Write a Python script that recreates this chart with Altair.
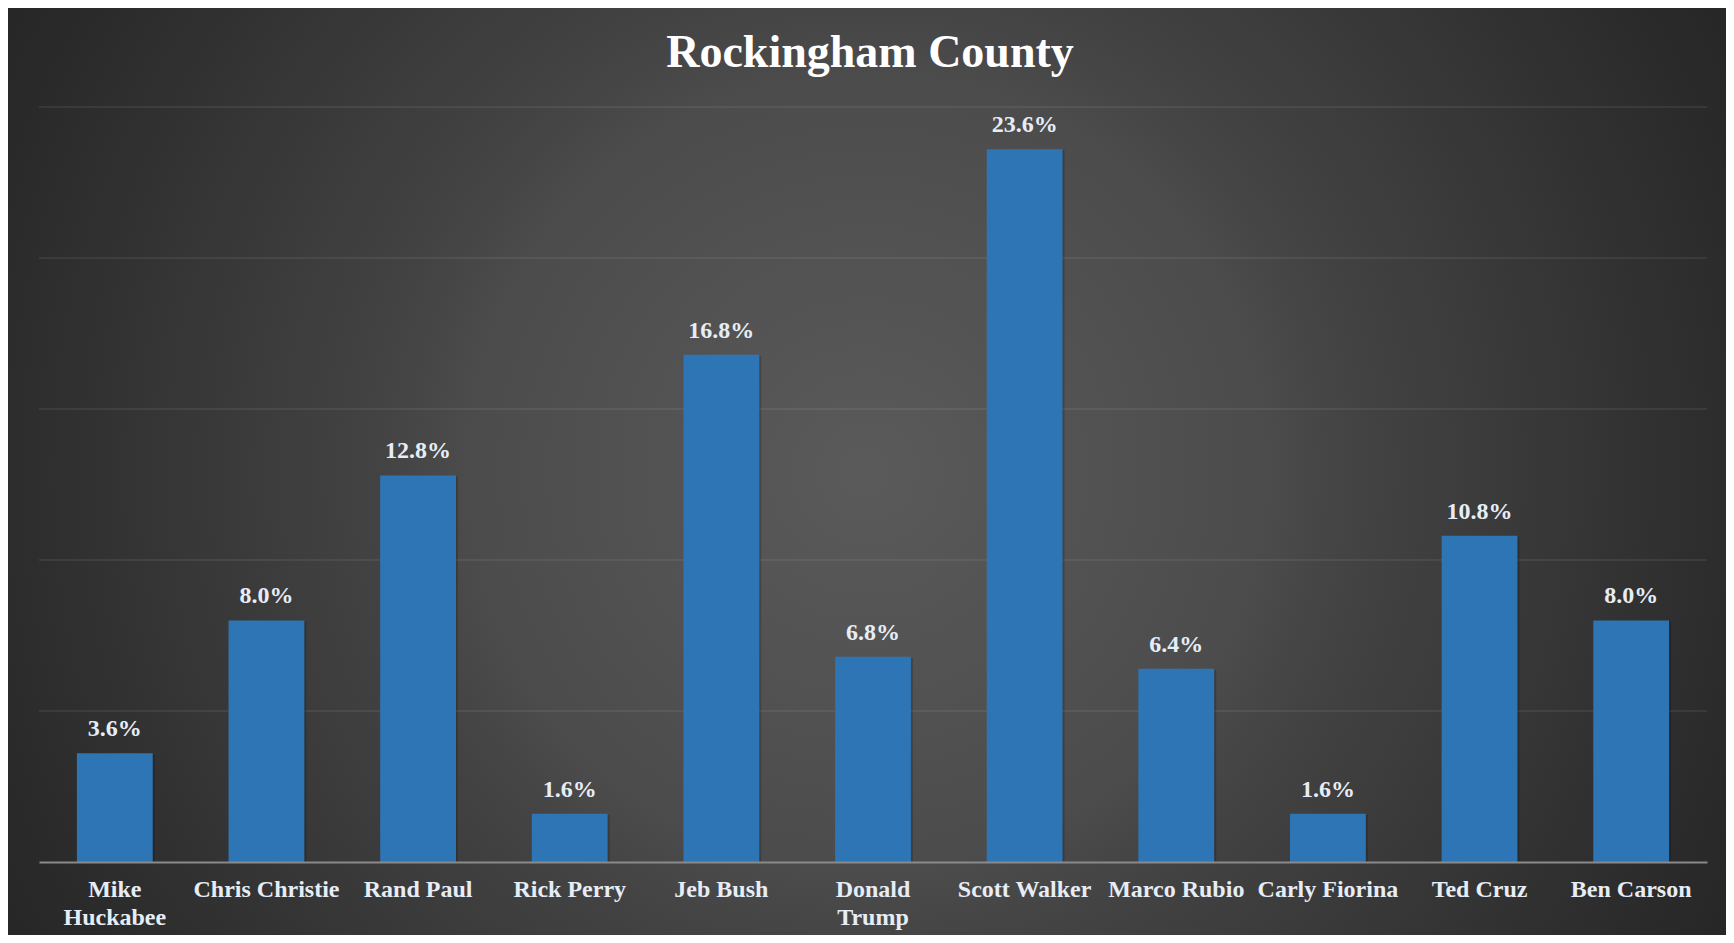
import altair as alt
import pandas as pd

candidates = ["Mike Huckabee", "Chris Christie", "Rand Paul", "Rick Perry", "Jeb Bush",
              "Donald Trump", "Scott Walker", "Marco Rubio", "Carly Fiorina", "Ted Cruz",
              "Ben Carson"]
shares = [3.6, 8.0, 12.8, 1.6, 16.8, 6.8, 23.6, 6.4, 1.6, 10.8, 8.0]
wrapped = ["Mike Huckabee", "Donald Trump"]
grid_values = [5, 10, 15, 20, 25]
title_text = ["Rockingham County"]

df = pd.DataFrame({"candidate": candidates, "share": shares})
grid_df = pd.DataFrame({"v": grid_values})
title_df = pd.DataFrame({"t": title_text})

W, H = 1668, 755
PAD = {"left": 31, "top": 99, "right": 19, "bottom": 73}
FONT = "Liberation Serif"

bg_gradient = {
    "gradient": "radial",
    "x1": 0.5, "y1": 0.5, "r1": 0,
    "x2": 0.5, "y2": 0.5, "r2": 0.57,
    "stops": [
        {"offset": 0, "color": "#5a5a5a"},
        {"offset": 0.4, "color": "#4c4c4c"},
        {"offset": 0.5, "color": "#434343"},
        {"offset": 0.85, "color": "#2e2e2e"},
        {"offset": 1, "color": "#262626"},
    ],
}

y_scale = alt.Scale(domain=[0, 25], nice=False)

background = alt.Chart(title_df).mark_rect(fill=bg_gradient, strokeWidth=0).encode(
    x=alt.value(-PAD["left"]),
    x2=alt.value(W + PAD["right"]),
    y=alt.value(-PAD["top"]),
    y2=alt.value(H + PAD["bottom"]),
)

grid = alt.Chart(grid_df).mark_rule(color="rgba(255,255,255,0.09)", strokeWidth=1.6).encode(
    y=alt.Y("v:Q", scale=y_scale, axis=None),
    x=alt.value(0),
    x2=alt.value(W),
)

label_expr = "indexof(" + str(wrapped) + ", datum.label) >= 0 ? split(datum.label, ' ') : datum.label"

x_enc = alt.X(
    "candidate:N",
    sort=candidates,
    scale=alt.Scale(paddingInner=0.5, paddingOuter=0.25),
    axis=alt.Axis(
        title=None,
        labelAngle=0,
        labelFont=FONT,
        labelFontSize=24,
        labelFontWeight="bold",
        labelColor="#e6edf6",
        labelPadding=15,
        labelLineHeight=28,
        labelExpr=label_expr,
        ticks=False,
        domain=True,
        domainColor="#8a8a8a",
        domainWidth=2,
        grid=False,
        zindex=1,
    ),
)
y_enc = alt.Y("share:Q", scale=y_scale, axis=None)

base = alt.Chart(df)

shadow = base.mark_bar(color="#000000", opacity=0.18, xOffset=2, yOffset=1).encode(
    x=x_enc, y=y_enc
)

bars = base.mark_bar(color="#2e75b6").encode(x=x_enc, y=y_enc)

labels = base.transform_calculate(
    txt="format(datum.share, '.1f') + '%'"
).mark_text(
    font=FONT, fontSize=24, fontWeight="bold", color="#e6edf6",
    baseline="alphabetic", dy=-17,
).encode(x=x_enc, y=y_enc, text="txt:N")

title = alt.Chart(title_df).mark_text(
    font=FONT, fontSize=46, fontWeight="bold", color="#ffffff",
    baseline="alphabetic", align="center",
).encode(
    text="t:N",
    x=alt.value(W / 2 - 3),
    y=alt.value(-40),
)

chart = alt.layer(background, grid, shadow, bars, labels, title).properties(
    width=W,
    height=H,
    padding=PAD,
    autosize=alt.AutoSizeParams(type="none"),
    background="white",
).configure_view(stroke=None)

chart.save("out.html", embed_options={"renderer": "svg", "actions": False})
